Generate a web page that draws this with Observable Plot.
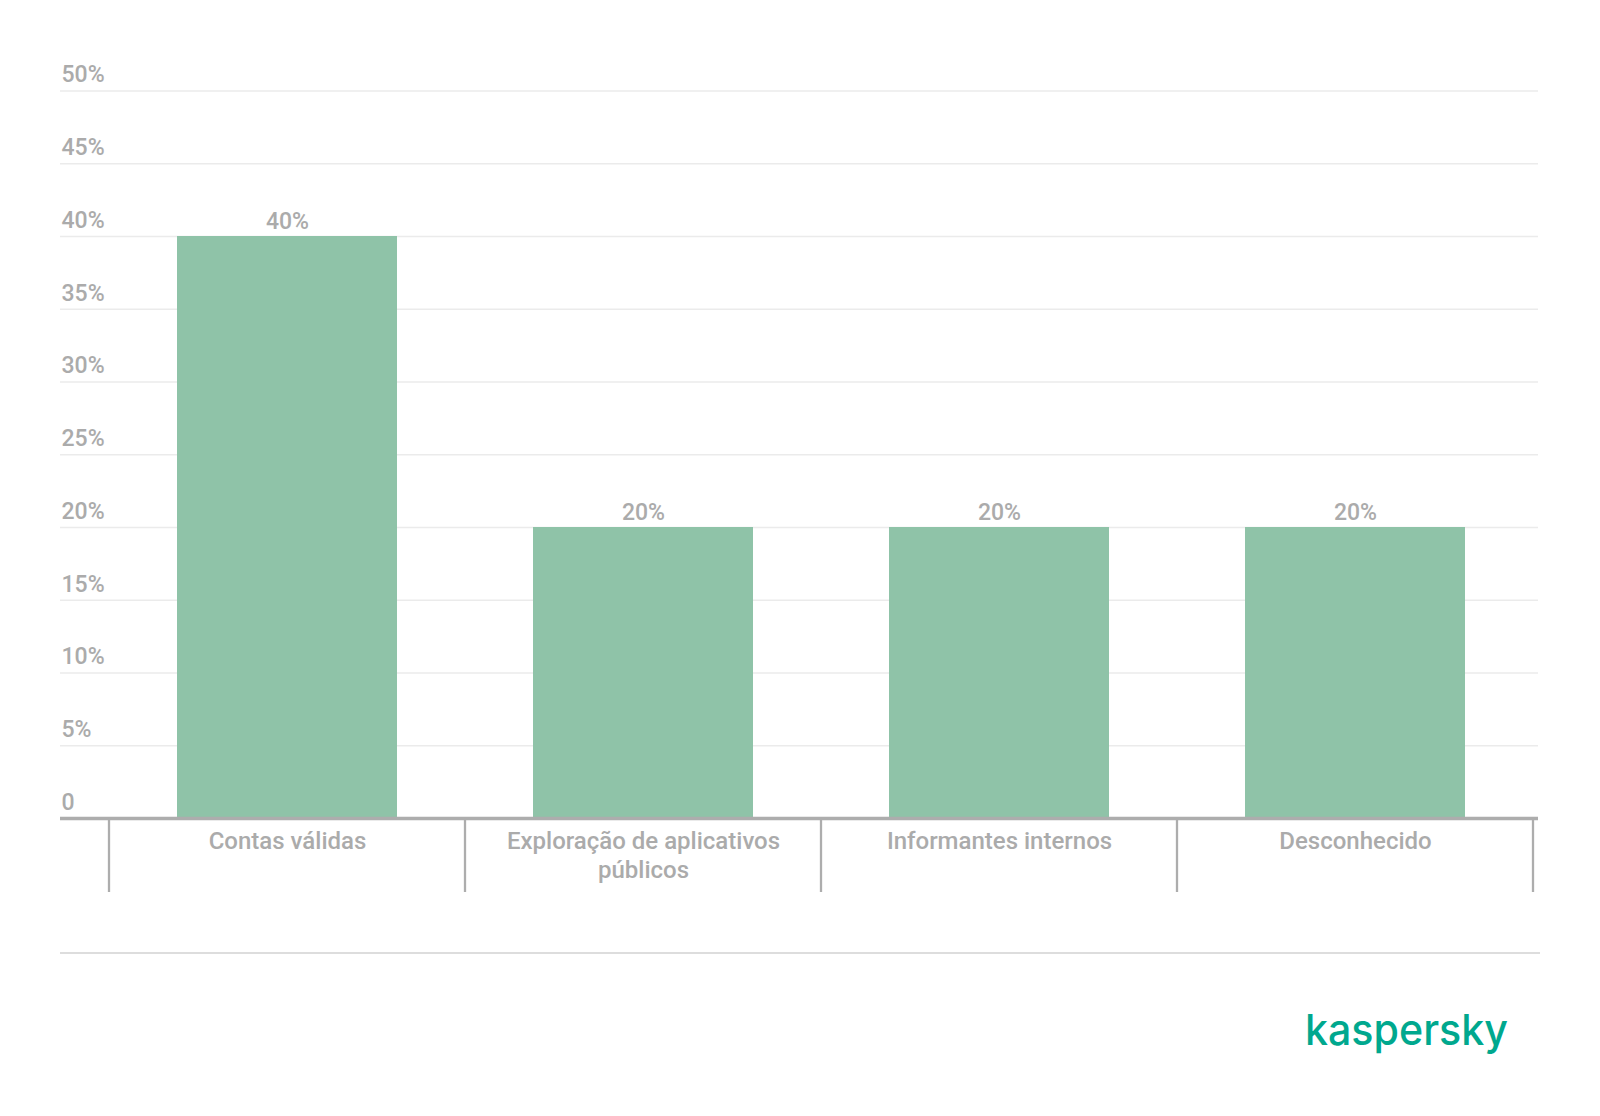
<!DOCTYPE html>
<html>
<head>
<meta charset="utf-8">
<script src="https://cdn.jsdelivr.net/npm/d3@7"></script>
<script src="https://cdn.jsdelivr.net/npm/@observablehq/plot@0.6"></script>
<style>
  html, body { margin: 0; padding: 0; background: #fff; }
  #wrap { position: relative; width: 1600px; height: 1116px; overflow: hidden; }
  #rule { position: absolute; left: 60px; top: 952px; width: 1480px; height: 2px; background: #dddddd; }
  #logo { position: absolute; left: 0; top: 0; }
</style>
</head>
<body>
<div id="wrap">
  <div id="chart"></div>
  <div id="rule"></div>
  <svg id="logo" width="1600" height="1116" style="pointer-events:none">
    <text x="1305" y="1045" textLength="203" lengthAdjust="spacingAndGlyphs"
      font-family="Inter, Roboto, sans-serif" font-weight="500" font-size="43" fill="#00a88e">kaspersky</text>
  </svg>
</div>
<script>
const categories = ["Contas válidas", "Exploração de aplicativos públicos", "Informantes internos", "Desconhecido"];
const categoryLabels = ["Contas válidas", "Exploração de aplicativos\npúblicos", "Informantes internos", "Desconhecido"];
const values = [40, 20, 20, 20];
const yTicks = [0, 5, 10, 15, 20, 25, 30, 35, 40, 45, 50];
const yTickLabels = ["0", "5%", "10%", "15%", "20%", "25%", "30%", "35%", "40%", "45%", "50%"];

const data = categories.map((c, i) => ({category: c, value: values[i], label: categoryLabels[i]}));
const gray = "#ababab";

const chart = Plot.plot({
  width: 1600,
  height: 900,
  marginLeft: 60,
  marginRight: 62,
  marginTop: 90.5,
  marginBottom: 82,
  x: {domain: categories, range: [109, 1533], padding: 0, axis: null},
  y: {domain: [0, 50], axis: null},
  style: {fontFamily: "Roboto, sans-serif", background: "white", overflow: "visible"},
  marks: [
    Plot.ruleY(yTicks.filter(t => t > 0), {stroke: "#ebebeb", strokeWidth: 1.5}),
    Plot.text(yTicks, {y: d => d, text: (d, i) => yTickLabels[i], frameAnchor: "left", textAnchor: "start",
      dx: 1, dy: -16, fill: gray, fontSize: 23, fontWeight: 500}),
    Plot.barY(data, {x: "category", y: "value", fill: "#8fc3a8", insetLeft: 68, insetRight: 68}),
    Plot.text(data, {x: "category", y: "value", text: d => d.value + "%", dy: -15, fill: gray, fontSize: 23, fontWeight: 500}),
    Plot.ruleY([0], {stroke: "#adadad", strokeWidth: 3.3}),
    Plot.text(data, {x: "category", text: "label", frameAnchor: "bottom", lineAnchor: "top",
      dy: 11, lineHeight: 1.17, fill: gray, fontSize: 24, fontWeight: 500})
  ]
});
document.getElementById("chart").appendChild(chart);

// band separators below the axis, positioned from Plot's own x scale
const sx = chart.scale("x");
const sy = chart.scale("y");
const y0 = sy.apply(0);
const edges = categories.map(c => sx.apply(c)).concat([sx.apply(categories[categories.length - 1]) + sx.bandwidth]);
d3.select(chart).append("g")
  .selectAll("line").data(edges).join("line")
  .attr("x1", d => d).attr("x2", d => d)
  .attr("y1", y0 + 2).attr("y2", y0 + 74)
  .attr("stroke", "#adadad").attr("stroke-width", 2.3);
</script>
</body>
</html>
